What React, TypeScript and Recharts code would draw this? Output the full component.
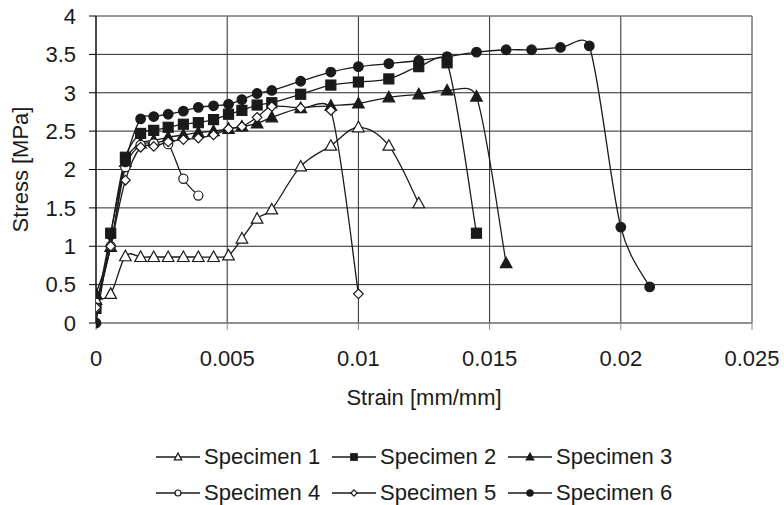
import React from 'react';
import { LineChart, Line, XAxis, YAxis, CartesianGrid, ReferenceLine } from 'recharts';

const FONT = '"Liberation Sans", Arial, Helvetica, sans-serif';

const xTicks = [0, 0.005, 0.01, 0.015, 0.02, 0.025];
const yTicks = [0, 0.5, 1, 1.5, 2, 2.5, 3, 3.5, 4];

const names = ['Specimen 1', 'Specimen 2', 'Specimen 3', 'Specimen 4', 'Specimen 5', 'Specimen 6'];
const shapes = ['triangleOpen', 'square', 'triangle', 'circleOpen', 'diamondOpen', 'circle'];

const s1Strain = [0, 0.00056, 0.00112, 0.0017, 0.0022, 0.00275, 0.00333, 0.0039, 0.00448, 0.00505, 0.00556, 0.00614, 0.0067, 0.0078, 0.00895, 0.01, 0.01116, 0.0123];
const s1Stress = [0.3, 0.38, 0.87, 0.86, 0.86, 0.86, 0.86, 0.86, 0.86, 0.88, 1.1, 1.36, 1.48, 2.04, 2.31, 2.55, 2.31, 1.56];

const s2Strain = [0, 0.00056, 0.00112, 0.0017, 0.0022, 0.00275, 0.00333, 0.0039, 0.00448, 0.00505, 0.00556, 0.00614, 0.0067, 0.0078, 0.00895, 0.01, 0.01116, 0.0123, 0.01338, 0.0145];
const s2Stress = [0.19, 1.17, 2.16, 2.47, 2.51, 2.55, 2.59, 2.61, 2.65, 2.72, 2.77, 2.84, 2.87, 2.98, 3.1, 3.14, 3.18, 3.34, 3.39, 1.17];

const s3Strain = [0, 0.00056, 0.00112, 0.0017, 0.0022, 0.00275, 0.00333, 0.0039, 0.00448, 0.00505, 0.00556, 0.00614, 0.0067, 0.0078, 0.00895, 0.01, 0.01116, 0.0123, 0.01338, 0.0145, 0.01563];
const s3Stress = [0.38, 0.99, 2.1, 2.34, 2.38, 2.42, 2.45, 2.48, 2.5, 2.53, 2.56, 2.6, 2.68, 2.8, 2.83, 2.86, 2.94, 2.98, 3.03, 2.95, 0.78];

const s4Strain = [0, 0.00056, 0.00112, 0.0017, 0.0022, 0.00275, 0.00333, 0.0039];
const s4Stress = [0.2, 1.0, 2.03, 2.32, 2.34, 2.33, 1.88, 1.66];

const s5Strain = [0, 0.00056, 0.00112, 0.0017, 0.0022, 0.00275, 0.00333, 0.0039, 0.00448, 0.00505, 0.00556, 0.00614, 0.0067, 0.0078, 0.00895, 0.01];
const s5Stress = [0.2, 1.0, 1.86, 2.29, 2.3, 2.36, 2.39, 2.41, 2.45, 2.53, 2.56, 2.68, 2.82, 2.8, 2.77, 0.38];

const s6Strain = [0, 0.00056, 0.00112, 0.0017, 0.0022, 0.00275, 0.00333, 0.0039, 0.00448, 0.00505, 0.00556, 0.00614, 0.0067, 0.0078, 0.00895, 0.01, 0.01116, 0.0123, 0.01338, 0.0145, 0.01563, 0.0166, 0.0177, 0.0188, 0.02, 0.0211];
const s6Stress = [0, 1.15, 2.1, 2.66, 2.69, 2.72, 2.76, 2.81, 2.83, 2.85, 2.91, 2.99, 3.03, 3.15, 3.27, 3.34, 3.38, 3.42, 3.47, 3.53, 3.56, 3.56, 3.59, 3.61, 1.25, 0.47];

const strains = [s1Strain, s2Strain, s3Strain, s4Strain, s5Strain, s6Strain];
const stresses = [s1Stress, s2Stress, s3Stress, s4Stress, s5Stress, s6Stress];

const series = names.map((name, i) => ({
  name,
  shape: shapes[i],
  data: strains[i].map((x, j) => ({ x, y: stresses[i][j] })),
}));

// excel-like smoothed line: catmull-rom, control arms clamped to half the segment length
const clampArm = (dx: number, dy: number, max: number) => {
  const len = Math.hypot(dx, dy);
  if (len <= max || len === 0) return [dx, dy];
  return [(dx * max) / len, (dy * max) / len];
};

const smooth = (context: any) => {
  let pts: number[][] = [];
  return {
    areaStart() {},
    areaEnd() {},
    lineStart() {
      pts = [];
    },
    point(x: number, y: number) {
      pts.push([+x, +y]);
    },
    lineEnd() {
      const n = pts.length;
      if (!n) return;
      context.moveTo(pts[0][0], pts[0][1]);
      for (let i = 0; i < n - 1; i++) {
        const p0 = pts[i - 1] || pts[i];
        const p1 = pts[i];
        const p2 = pts[i + 1];
        const p3 = pts[i + 2] || pts[i + 1];
        const seg = Math.hypot(p2[0] - p1[0], p2[1] - p1[1]) * 0.5;
        const a = clampArm((p2[0] - p0[0]) / 6, (p2[1] - p0[1]) / 6, seg);
        const b = clampArm((p3[0] - p1[0]) / 6, (p3[1] - p1[1]) / 6, seg);
        context.bezierCurveTo(p1[0] + a[0], p1[1] + a[1], p2[0] - b[0], p2[1] - b[1], p2[0], p2[1]);
      }
    },
  };
};

const INK = '#1a1a1a';

const Marker = ({ shape, cx, cy, k = 1 }: { shape: string; cx: number; cy: number; k?: number }) => {
  const sw = 1.2;
  switch (shape) {
    case 'triangleOpen':
    case 'triangle': {
      const w = 5.8 * k;
      const pts = `${cx},${cy - 6 * k} ${cx - w},${cy + 4.5 * k} ${cx + w},${cy + 4.5 * k}`;
      return <polygon points={pts} fill={shape === 'triangle' ? INK : '#fff'} stroke={INK} strokeWidth={sw} />;
    }
    case 'square':
      return <rect x={cx - 5 * k} y={cy - 5 * k} width={10 * k} height={10 * k} fill={INK} stroke={INK} strokeWidth={sw} />;
    case 'diamondOpen': {
      const d = 4.8 * k;
      return (
        <polygon points={`${cx},${cy - d} ${cx + d},${cy} ${cx},${cy + d} ${cx - d},${cy}`} fill="#fff" stroke={INK} strokeWidth={sw} />
      );
    }
    case 'circleOpen':
      return <circle cx={cx} cy={cy} r={4.6 * k} fill="#fff" stroke={INK} strokeWidth={sw} />;
    default:
      return <circle cx={cx} cy={cy} r={4.8 * k} fill={INK} stroke={INK} strokeWidth={sw} />;
  }
};

const LegendItem = ({ name, shape }: { name: string; shape: string }) => (
  <div style={{ display: 'flex', alignItems: 'center', width: 176, height: 26 }}>
    <svg width={44} height={26}>
      <line x1={0} y1={13} x2={44} y2={13} stroke={INK} strokeWidth={1.3} />
      <Marker shape={shape} cx={22} cy={13} k={0.65} />
    </svg>
    <span style={{ marginLeft: 4, fontSize: 22, color: INK, whiteSpace: 'nowrap' }}>{name}</span>
  </div>
);

const App = () => {
  const rows = [series.slice(0, 3), series.slice(3, 6)];
  return (
    <div style={{ position: 'absolute', left: 0, top: 0, width: 784, height: 505, background: '#fff', fontFamily: FONT }}>
      <LineChart width={784} height={505} margin={{ top: 16, right: 32, bottom: 100, left: 0 }}>
        <CartesianGrid stroke="#2a2a2a" strokeWidth={1} />
        <XAxis
          type="number"
          dataKey="x"
          domain={[0, 0.025]}
          ticks={xTicks}
          allowDataOverflow
          height={82}
          tickSize={7}
          tickMargin={20}
          stroke="#8a8a8a"
          tick={{ fill: INK, fontSize: 22, fontFamily: FONT }}
          label={{ value: 'Strain [mm/mm]', position: 'insideBottom', offset: 0, fill: INK, fontSize: 22, fontFamily: FONT }}
        />
        <YAxis
          type="number"
          dataKey="y"
          domain={[0, 4]}
          ticks={yTicks}
          width={96}
          tickSize={7}
          tickMargin={13}
          stroke="#000"
          tick={{ fill: INK, fontSize: 22, fontFamily: FONT }}
          label={{
            value: 'Stress [MPa]',
            angle: -90,
            position: 'insideLeft',
            offset: 20,
            fill: INK,
            fontSize: 22,
            fontFamily: FONT,
            style: { textAnchor: 'middle' },
          }}
        />
        <ReferenceLine y={4} stroke="#9a9a9a" />
        <ReferenceLine x={0.025} stroke="#9a9a9a" />
        {series.map((s) => (
          <Line
            key={s.name}
            data={s.data}
            dataKey="y"
            name={s.name}
            type={smooth as any}
            stroke={INK}
            strokeWidth={1.3}
            isAnimationActive={false}
            dot={(p: any) => <Marker key={`${s.name}-${p.index}`} shape={s.shape} cx={p.cx} cy={p.cy} />}
            activeDot={false}
          />
        ))}
      </LineChart>
      {rows.map((row, r) => (
        <div key={r} style={{ position: 'absolute', left: 156, top: 444 + r * 36, display: 'flex' }}>
          {row.map((s) => (
            <LegendItem key={s.name} name={s.name} shape={s.shape} />
          ))}
        </div>
      ))}
    </div>
  );
};

export default App;
